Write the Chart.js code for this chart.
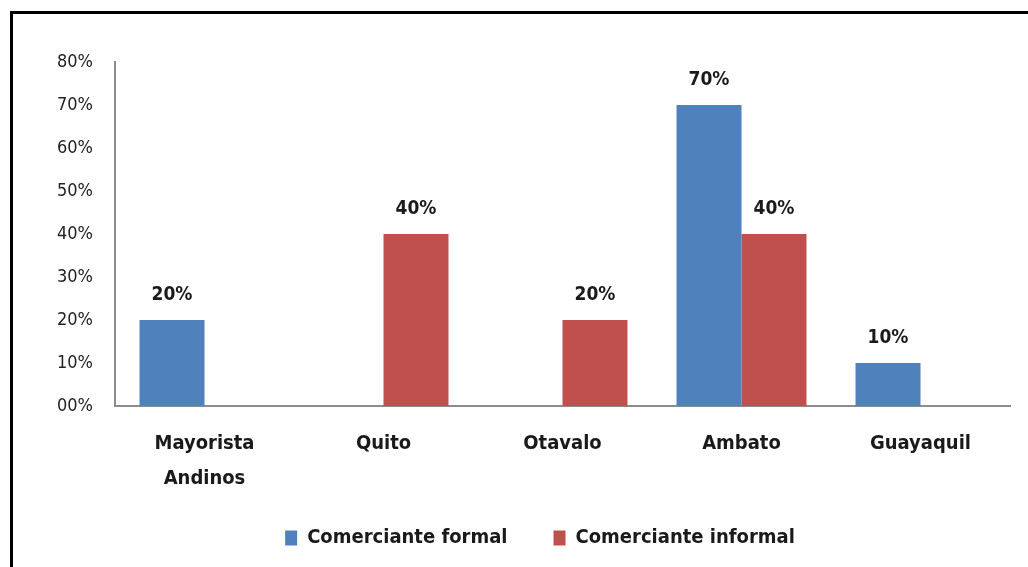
<!DOCTYPE html>
<html>
<head>
<meta charset="utf-8">
<script src="https://cdn.jsdelivr.net/npm/chart.js@4/dist/chart.umd.min.js"></script>
<style>
  html, body { margin: 0; padding: 0; background: #fff; overflow: hidden; }
  #frame {
    position: absolute; left: 10px; top: 11px; width: 1030px; height: 570px;
    border-left: 3px solid #000; border-top: 3px solid #000;
  }
  #wrap { position: absolute; left: 0; top: 0; width: 1028px; height: 567px; }
</style>
</head>
<body>
<div id="frame"></div>
<div id="wrap"><canvas id="chart"></canvas></div>
<script>
const categories = [["Mayorista", "Andinos"], "Quito", "Otavalo", "Ambato", "Guayaquil"];
const formal = [20, 0, 0, 70, 10];
const informal = [0, 40, 20, 40, 0];
const yTicks = ["00%", "10%", "20%", "30%", "40%", "50%", "60%", "70%", "80%"];

const FONT = "'Liberation Sans Narrow', 'DejaVu Sans Condensed', 'Roboto', sans-serif";

// value labels above each non-zero bar
const barLabels = {
  id: 'barLabels',
  afterDatasetsDraw(chart) {
    const ctx = chart.ctx;
    ctx.save();
    ctx.font = 'bold 19px ' + FONT;
    ctx.fillStyle = '#1a1a1a';
    ctx.textAlign = 'center';
    ctx.textBaseline = 'middle';
    chart.data.datasets.forEach((ds, i) => {
      chart.getDatasetMeta(i).data.forEach((bar, j) => {
        if (ds.data[j] > 0) ctx.fillText(ds.data[j] + '%', bar.x, bar.y - 25);
      });
    });
    ctx.restore();
  }
};

// legend sits a bit right of centre in the original; let the 2-line x label overflow its box
const layoutTweaks = {
  id: 'layoutTweaks',
  afterLayout(chart) {
    chart.legend.left += 35;
    chart.legend.right += 35;
    chart.scales.x.bottom += 40;
  }
};

new Chart(document.getElementById('chart'), {
  type: 'bar',
  data: {
    labels: categories,
    datasets: [
      { label: 'Comerciante formal', data: formal, backgroundColor: '#4F81BD' },
      { label: 'Comerciante informal', data: informal, backgroundColor: '#C0504D' }
    ]
  },
  options: {
    responsive: true,
    maintainAspectRatio: false,
    animation: false,
    layout: { padding: { top: 62, right: 18, left: 0, bottom: 9 } },
    categoryPercentage: 0.726,
    barPercentage: 1,
    scales: {
      x: {
        grid: { display: false },
        border: { color: '#8c8c8c', width: 2 },
        ticks: {
          color: '#1a1a1a',
          font: { family: FONT, size: 20, weight: 'bold', lineHeight: 1.75 },
          padding: 12,
          maxRotation: 0
        },
        afterFit(scale) { scale.height = 76; }
      },
      y: {
        min: 0,
        max: 80,
        grid: { display: false, drawTicks: false },
        border: { color: '#8c8c8c', width: 2 },
        ticks: {
          stepSize: 10,
          color: '#222',
          padding: 22,
          font: { family: FONT, size: 18 },
          callback: (v, i) => yTicks[i]
        },
        afterFit(scale) { scale.width = 115; }
      }
    },
    plugins: {
      legend: {
        position: 'bottom',
        labels: {
          boxWidth: 12,
          boxHeight: 15,
          padding: 46,
          color: '#1a1a1a',
          font: { family: FONT, size: 20, weight: 'bold' }
        }
      },
      tooltip: { enabled: false }
    }
  },
  plugins: [barLabels, layoutTweaks]
});
</script>
</body>
</html>
